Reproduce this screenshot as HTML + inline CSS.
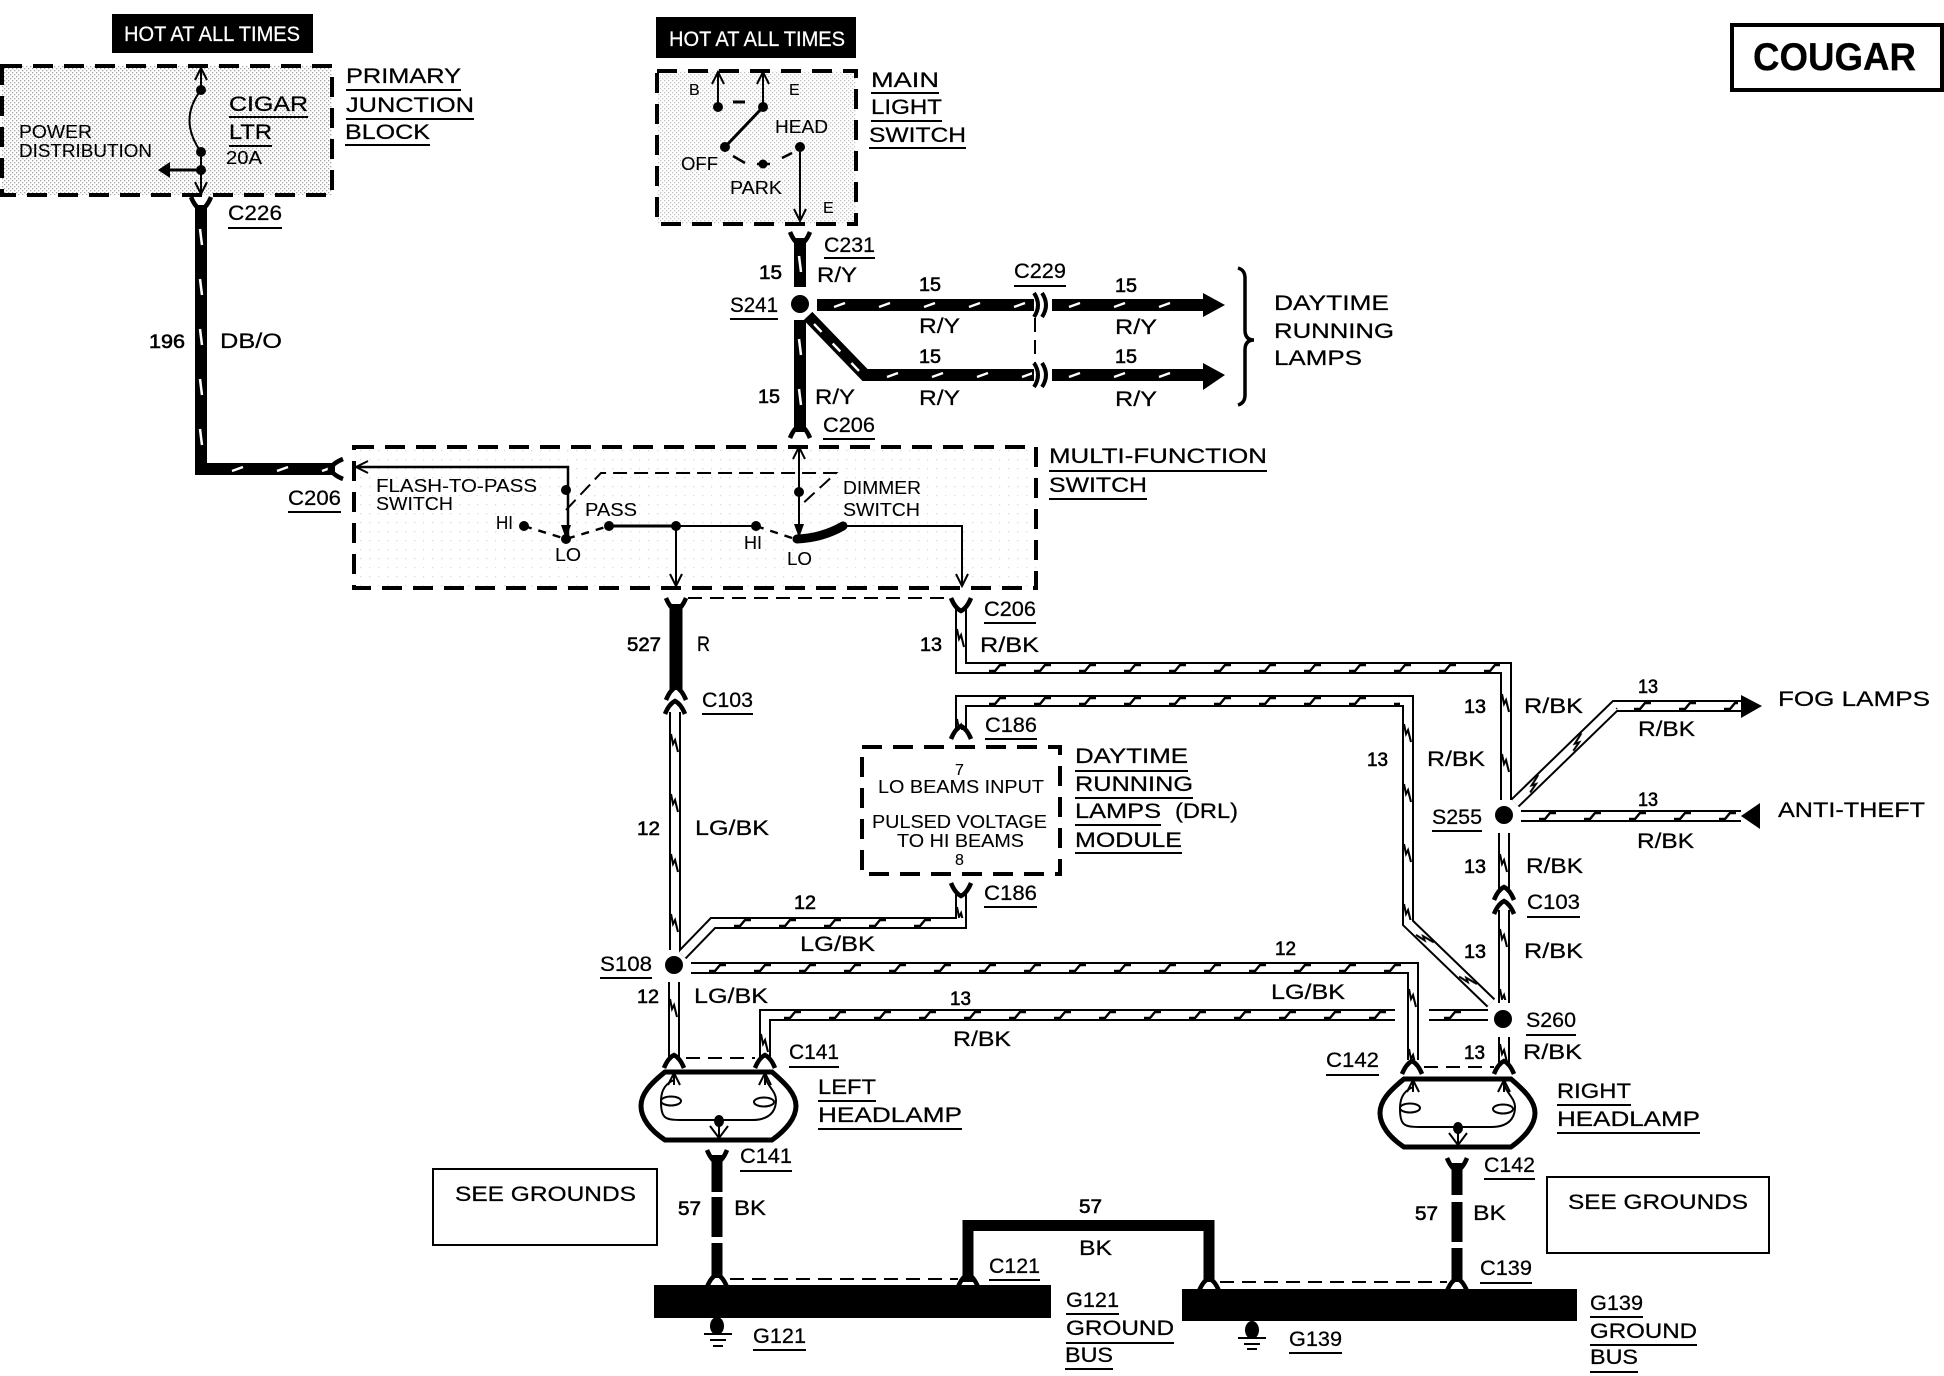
<!DOCTYPE html>
<html><head><meta charset="utf-8"><title>Cougar headlamp wiring</title>
<style>
html,body{margin:0;padding:0;background:#fff}
svg{display:block}
text{font-family:"Liberation Sans",sans-serif;fill:#000;font-size:21px;stroke:#000;stroke-width:.25px}
.s{font-size:18px;stroke-width:.1px}.w{fill:#fff;font-size:21px;stroke:#fff}
.n{font-size:19px;stroke-width:.6px}
</style></head><body>
<svg width="1944" height="1376" viewBox="0 0 1944 1376" xmlns="http://www.w3.org/2000/svg">
<defs>
<pattern id="st" width="4" height="4" patternUnits="userSpaceOnUse"><rect width="1.3" height="1.3" fill="#000" opacity=".65"/><rect x="2" y="2" width="1.3" height="1.3" fill="#000" opacity=".65"/></pattern>
<pattern id="st2" width="9" height="9" patternUnits="userSpaceOnUse"><rect width="1.3" height="1.3" fill="#000" opacity=".4"/></pattern>
<pattern id="k" width="45" height="12" patternUnits="userSpaceOnUse"><path d="M14 9h6l5-6h6" stroke="#000" stroke-width="2.4" fill="none"/></pattern>
<pattern id="kv" width="60" height="12" patternUnits="userSpaceOnUse"><path d="M14 9L24 7L20 5L32 2" stroke="#000" stroke-width="2" fill="none"/></pattern>
<pattern id="w" width="45" height="12" patternUnits="userSpaceOnUse"><path d="M17 8L28 4" stroke="#fff" stroke-width="2.4" fill="none"/></pattern>
<pattern id="wv" width="50" height="12" patternUnits="userSpaceOnUse"><path d="M14 7L30 5" stroke="#fff" stroke-width="2.4" fill="none"/></pattern>
<path id="y" d="M-10 -8Q-6 2 0 5Q6 2 10 -8" fill="none" stroke="#000" stroke-width="4.5"/>
<path id="n" d="M-10 8Q-6 -2 0 -5Q6 -2 10 8" fill="none" stroke="#000" stroke-width="4.5"/>
<path id="a" d="M-6 12L0 0L6 12M0 0V12" fill="none" stroke="#000" stroke-width="2"/>
<g id="lamp">
<path d="M665 1072H772C786 1084 796 1094 796 1106C796 1118 786 1130 772 1140H665C650 1130 641 1118 641 1106C641 1094 650 1084 665 1072Z" fill="#fff" stroke="#000" stroke-width="5"/>
<path d="M674 1074V1080C662 1085 661 1095 661 1102C661 1118 665 1120 680 1120H752C775 1120 776 1105 776 1100C776 1090 765 1085 765 1074M719 1120V1136" fill="none" stroke="#000" stroke-width="2"/>
<ellipse cx="671" cy="1101" rx="10" ry="4.5" fill="#fff" stroke="#000" stroke-width="2"/>
<ellipse cx="764" cy="1102" rx="10" ry="4.5" fill="#fff" stroke="#000" stroke-width="2"/>
<ellipse cx="719" cy="1121" rx="5" ry="6"/>
<use href="#a" x="674" y="1073"/><use href="#a" x="765" y="1073"/>
<path d="M710 1126L719 1138L728 1126" fill="none" stroke="#000" stroke-width="2"/>
</g>
</defs>
<rect width="1944" height="1376" fill="#fff"/>

<!-- boxes -->
<rect x="2" y="66" width="330" height="129" fill="url(#st)" opacity=".55"/>
<rect x="657" y="71" width="199" height="153" fill="url(#st)" opacity=".35"/>
<rect x="354" y="447" width="682" height="141" fill="url(#st2)" opacity=".35"/>
<g fill="none" stroke="#000" stroke-width="4" stroke-dasharray="20 11">
<rect x="2" y="66" width="330" height="129"/>
<rect x="657" y="71" width="199" height="153"/>
<rect x="354" y="447" width="682" height="141"/>
<rect x="862" y="747" width="198" height="127"/>
</g>
<rect x="112" y="14" width="201" height="39" fill="#000"/>
<rect x="656" y="17" width="200" height="41" fill="#000"/>
<rect x="1732" y="25" width="210" height="65" fill="none" stroke="#000" stroke-width="4"/>
<rect x="433" y="1169" width="224" height="76" fill="none" stroke="#000" stroke-width="2"/>
<rect x="1547" y="1177" width="222" height="76" fill="none" stroke="#000" stroke-width="2"/>
<!-- brace -->
<path d="M1238 268Q1245 270 1245 278V330Q1245 340 1254 340Q1245 340 1245 350V395Q1245 403 1238 405" fill="none" stroke="#000" stroke-width="3.500"/>

<!-- thick wires -->
<g fill="none" stroke="#000" stroke-width="12" stroke-linejoin="miter">
<path d="M201 205V469H335"/>
<path d="M800 238V287M800 320V432"/>
<path d="M817 305H1034M1052 305H1205"/>
<path d="M808 316L865 375H1034M1052 375H1205"/>
<path d="M676 604V690" stroke-width="13"/>
<path d="M717 1155V1192M717 1197V1237M717 1243V1278" stroke-width="11"/>
<path d="M1457 1163V1195M1457 1202V1242M1457 1248V1282" stroke-width="11"/>
<path d="M968 1282V1225.500H1209V1282" stroke-width="11"/>
</g>
<path d="M1203 293L1225 305L1203 317Z M1203 363L1225 375L1203 390Z"/>
<g>
<rect fill="url(#wv)" transform="translate(207,215) rotate(90)" width="245"  height="12"/>
<rect fill="url(#w)" transform="translate(215,463)" width="115" height="12"/>
<rect fill="url(#wv)" transform="translate(806,242) rotate(90)" width="44" height="12"/>
<rect fill="url(#wv)" transform="translate(806,325) rotate(90)" width="100" height="12"/>
<rect fill="url(#w)" transform="translate(817,299)" width="215" height="12"/>
<rect fill="url(#w)" transform="translate(1052,299)" width="145" height="12"/>
<rect fill="url(#w)" transform="translate(870,369)" width="162" height="12"/>
<rect fill="url(#w)" transform="translate(1052,369)" width="145" height="12"/>
</g>
<path d="M814 324L860 372" stroke="#fff" stroke-width="2.4" stroke-dasharray="11 16" fill="none"/>

<!-- double wires -->
<g fill="none" stroke="#000" stroke-width="12" stroke-linejoin="miter" id="dw1">
<path d="M961 606V668H1506V800"/>
<path d="M961 730V701H1408V923L1491 1003"/>
<path d="M675 712V950"/>
<path d="M961 890V923H713L682 955"/>
<path d="M691 968H1413V1060"/>
<path d="M765 1058V1015H1395M1429 1015H1488"/>
<path d="M674 982V1060"/>
<path d="M1504 1037V1063"/>
<path d="M1515 803L1615 706H1741"/>
<path d="M1521 816H1741"/>
<path d="M1504 833V890M1504 910V1003"/>
</g>
<g fill="none" stroke="#fff" stroke-width="8" stroke-linejoin="miter">
<path d="M961 604V668H1506V802"/>
<path d="M961 732V701H1408V923L1491 1003"/>
<path d="M675 710V952"/>
<path d="M961 888V923H713L682 955"/>
<path d="M689 968H1413V1062"/>
<path d="M765 1060V1015H1397M1427 1015H1490"/>
<path d="M674 980V1062"/>
<path d="M1504 1035V1065"/>
<path d="M1515 803L1615 706H1743"/>
<path d="M1519 816H1743"/>
<path d="M1504 831V892M1504 908V1005"/>
</g>
<g fill="url(#k)">
<rect fill="url(#kv)" transform="translate(966,615) rotate(90)" width="45" height="10"/>
<rect transform="translate(975,662)" width="525" height="12"/>
<rect fill="url(#kv)" transform="translate(1511,680) rotate(90)" width="115" height="10"/>
<rect fill="url(#kv)" transform="translate(966,705) rotate(90)" width="25" height="10"/>
<rect transform="translate(975,695)" width="425" height="12"/>
<rect fill="url(#kv)" transform="translate(1413,710) rotate(90)" width="210" height="10"/>
<rect fill="url(#kv)" transform="translate(1408,923) rotate(44) translate(0,-6)" width="115" height="12"/>
<rect fill="url(#kv)" transform="translate(680,720) rotate(90)" width="225" height="10"/>
<rect fill="url(#kv)" transform="translate(966,893) rotate(90)" width="25" height="10"/>
<rect transform="translate(720,917)" width="235" height="12"/>
<rect transform="translate(695,962)" width="710" height="12"/>
<rect fill="url(#kv)" transform="translate(1418,975) rotate(90)" width="85" height="10"/>
<rect transform="translate(770,1009)" width="620" height="12"/>
<rect transform="translate(1430,1009)" width="55" height="12"/>
<rect fill="url(#kv)" transform="translate(770,1020) rotate(90)" width="38" height="10"/>
<rect fill="url(#kv)" transform="translate(679,985) rotate(90)" width="72" height="10"/>
<rect fill="url(#kv)" transform="translate(1509,1030) rotate(90)" width="32" height="10"/>
<rect fill="url(#kv)" transform="translate(1518,800) rotate(-44) translate(0,-6)" width="135" height="12"/>
<rect transform="translate(1620,700)" width="118" height="12"/>
<rect transform="translate(1525,810)" width="212" height="12"/>
<rect fill="url(#kv)" transform="translate(1509,840) rotate(90)" width="45" height="10"/>
<rect fill="url(#kv)" transform="translate(1509,915) rotate(90)" width="85" height="10"/>
</g>
<path d="M1741 695L1762 706L1741 718Z M1741 816L1760 803V829Z"/>

<!-- connectors -->
<use href="#y" x="201" y="205"/><use href="#y" x="800" y="240"/><use href="#y" x="676" y="606"/><use href="#y" x="961" y="606"/><use href="#y" x="961" y="891"/><use href="#y" x="717" y="1158"/><use href="#y" x="1457" y="1166"/>
<use href="#n" x="800" y="430"/><use href="#n" x="676" y="692"/><use href="#n" x="675" y="706"/><use href="#n" x="1504" y="892"/><use href="#n" x="1504" y="906"/><use href="#n" x="961" y="731"/><use href="#n" x="674" y="1060"/><use href="#n" x="765" y="1060"/><use href="#n" x="1412" y="1066"/><use href="#n" x="1504" y="1066"/><use href="#n" x="717" y="1279"/><use href="#n" x="968" y="1279"/><use href="#n" x="1209" y="1283"/><use href="#n" x="1457" y="1283"/>
<use href="#y" transform="translate(335,469) rotate(90)"/>
<path d="M1034 293Q1042 305 1034 317M1042 293Q1050 305 1042 317M1034 363Q1042 375 1034 387M1042 363Q1050 375 1042 387" fill="none" stroke="#000" stroke-width="4"/>
<!-- thin dashed connector ties -->
<g fill="none" stroke="#000" stroke-width="2" stroke-dasharray="14 8">
<path d="M1035 318V366"/>
<path d="M688 598H945"/>
<path d="M686 1058H755"/>
<path d="M1424 1067H1494"/>
<path d="M730 1279H958"/>
<path d="M1220 1282H1447"/>
</g>
<!-- bus -->
<rect x="654" y="1285" width="397" height="33"/>
<rect x="1182" y="1289" width="395" height="32"/>
<ellipse cx="717" cy="1326" rx="7" ry="9"/>
<ellipse cx="1252" cy="1330" rx="7" ry="9"/>
<path d="M704 1334H732M710 1340H726M713 1346H723M1238 1338H1266M1244 1344H1260M1247 1349H1257" stroke="#000" stroke-width="2"/>
<!-- headlamps -->
<use href="#lamp"/>
<use href="#lamp" transform="translate(739,7)"/>

<!-- splices -->
<circle cx="800" cy="304" r="9"/><circle cx="1504" cy="815" r="9"/><circle cx="1503" cy="1019" r="9"/><circle cx="674" cy="965" r="9"/>

<!-- fuse block internals -->
<g fill="none" stroke="#000" stroke-width="2">
<path d="M201 72V90M201 90Q178 120 201 152M201 152V192"/>
<path d="M201 170H165" stroke-width="3"/>
</g>
<use href="#a" x="201" y="68"/>
<use href="#a" transform="translate(201,194) rotate(180)"/>
<path d="M158 170L170 162V178Z"/>
<circle cx="201" cy="90" r="5"/><circle cx="201" cy="152" r="5"/><circle cx="201" cy="170" r="5"/>

<!-- main light switch -->
<g fill="none" stroke="#000" stroke-width="2">
<path d="M718 74V107M763 74V107M800 147V220"/>
<path d="M763 107L725 147" stroke-width="3"/>
<path d="M733 102H745" stroke-width="3"/>
<path d="M733 156L745 163M757 164H770M782 158L792 153" stroke-width="2.500"/>
</g>
<use href="#a" x="718" y="72"/><use href="#a" x="763" y="72"/><use href="#a" transform="translate(800,221) rotate(180)"/>
<circle cx="718" cy="107" r="5"/><circle cx="763" cy="107" r="5"/><circle cx="725" cy="147" r="5"/><circle cx="800" cy="147" r="5"/><circle cx="763" cy="164" r="4.500"/>

<!-- multi-function internals -->
<g fill="none" stroke="#000" stroke-width="2">
<path d="M358 467H568V539" stroke-width="2.500"/>
<path d="M799 449V535"/>
<path d="M609 526H676" stroke-width="3"/><path d="M676 526H756"/>
<path d="M676 526V584"/>
<path d="M843 526H962V584"/>
<path d="M566 510L601 473H836L799 507" stroke-dasharray="14 7"/>
<path d="M524 526L566 539L609 526M756 526L795 539" stroke-dasharray="8 7" stroke-width="2.400"/>
</g>
<path d="M797 539Q822 538 843 526" fill="none" stroke="#000" stroke-width="9" stroke-linecap="round"/>
<use href="#a" transform="translate(356,467) rotate(-90)"/>
<use href="#a" x="799" y="447"/>
<use href="#a" transform="translate(676,586) rotate(180)"/>
<use href="#a" transform="translate(962,586) rotate(180)"/>
<path d="M561 525L566 539L571 525Z M794 524L799 538L804 524Z"/>
<circle cx="566" cy="490" r="5"/><circle cx="799" cy="492" r="5"/><circle cx="524" cy="526" r="5"/><circle cx="566" cy="539" r="5"/><circle cx="609" cy="526" r="5"/><circle cx="676" cy="526" r="5"/><circle cx="756" cy="526" r="5"/>

<!-- underlines -->
<path fill="none" stroke="#000" stroke-width="2" d="M346 90H461M346 119H474M345 145H430M229 117H308M229 146H272M228 228H282M871 93H939M871 121H942M869 148H966M824 258H875M730 319H778M823 439H875M1014 286H1066M1049 471H1267M1049 499H1147M288 512H341M984 623H1036M702 714H753M985 739H1037M984 907H1037M1075 771H1188M1075 798H1193M1075 825H1161M1075 853H1182M1432 831H1482M1527 917H1580M1526 1035H1576M600 978H652M789 1067H839M1326 1075H1379M818 1101H876M818 1129H962M1557 1105H1631M1557 1133H1700M740 1171H792M1484 1179H1535M989 1280H1040M1480 1283H1532M753 1350H806M1066 1314H1119M1066 1343H1174M1065 1369H1113M1289 1353H1342M1590 1317H1643M1590 1345H1697M1590 1372H1638"/>

<!-- text -->
<g>
<text class="w" x="124" y="41" textLength="176" lengthAdjust="spacingAndGlyphs">HOT AT ALL TIMES</text>
<text class="w" x="669" y="46" textLength="176" lengthAdjust="spacingAndGlyphs">HOT AT ALL TIMES</text>
<text x="1753" y="70" font-weight="bold" style="font-size:39px" textLength="163" lengthAdjust="spacingAndGlyphs">COUGAR</text>

<text x="346" y="83" textLength="115" lengthAdjust="spacingAndGlyphs">PRIMARY</text>
<text x="346" y="112" textLength="128" lengthAdjust="spacingAndGlyphs">JUNCTION</text>
<text x="345" y="139" textLength="85" lengthAdjust="spacingAndGlyphs">BLOCK</text>
<text x="229" y="111" textLength="79" lengthAdjust="spacingAndGlyphs">CIGAR</text>
<text x="229" y="139" textLength="43" lengthAdjust="spacingAndGlyphs">LTR</text>
<text class="s" x="226" y="164" textLength="36" lengthAdjust="spacingAndGlyphs">20A</text>
<text class="s" x="19" y="138" textLength="73" lengthAdjust="spacingAndGlyphs">POWER</text>
<text class="s" x="19" y="157" textLength="133" lengthAdjust="spacingAndGlyphs">DISTRIBUTION</text>
<text x="228" y="220" textLength="54" lengthAdjust="spacingAndGlyphs">C226</text>
<text class="n" x="149" y="348" textLength="36" lengthAdjust="spacingAndGlyphs">196</text>
<text x="220" y="348" textLength="62" lengthAdjust="spacingAndGlyphs">DB/O</text>

<text x="871" y="87" textLength="68" lengthAdjust="spacingAndGlyphs">MAIN</text>
<text x="871" y="114" textLength="71" lengthAdjust="spacingAndGlyphs">LIGHT</text>
<text x="869" y="142" textLength="97" lengthAdjust="spacingAndGlyphs">SWITCH</text>
<text class="s" x="689" y="95" style="font-size:16px">B</text>
<text class="s" x="789" y="95" style="font-size:16px">E</text>
<text class="s" x="775" y="133" textLength="53" lengthAdjust="spacingAndGlyphs">HEAD</text>
<text class="s" x="681" y="170" textLength="37" lengthAdjust="spacingAndGlyphs">OFF</text>
<text class="s" x="730" y="194" textLength="52" lengthAdjust="spacingAndGlyphs">PARK</text>
<text class="s" x="823" y="213" style="font-size:16px">E</text>

<text x="824" y="252" textLength="51" lengthAdjust="spacingAndGlyphs">C231</text>
<text class="n" x="759" y="279" textLength="23" lengthAdjust="spacingAndGlyphs">15</text>
<text x="817" y="282" textLength="40" lengthAdjust="spacingAndGlyphs">R/Y</text>
<text x="730" y="312" textLength="48" lengthAdjust="spacingAndGlyphs">S241</text>
<text class="n" x="758" y="403" textLength="22" lengthAdjust="spacingAndGlyphs">15</text>
<text x="815" y="404" textLength="40" lengthAdjust="spacingAndGlyphs">R/Y</text>
<text x="823" y="432" textLength="52" lengthAdjust="spacingAndGlyphs">C206</text>
<text class="n" x="919" y="291" textLength="22" lengthAdjust="spacingAndGlyphs">15</text>
<text x="919" y="333" textLength="41" lengthAdjust="spacingAndGlyphs">R/Y</text>
<text class="n" x="919" y="363" textLength="22" lengthAdjust="spacingAndGlyphs">15</text>
<text x="919" y="405" textLength="41" lengthAdjust="spacingAndGlyphs">R/Y</text>
<text class="n" x="1115" y="292" textLength="22" lengthAdjust="spacingAndGlyphs">15</text>
<text x="1115" y="334" textLength="42" lengthAdjust="spacingAndGlyphs">R/Y</text>
<text class="n" x="1115" y="363" textLength="22" lengthAdjust="spacingAndGlyphs">15</text>
<text x="1115" y="406" textLength="42" lengthAdjust="spacingAndGlyphs">R/Y</text>
<text x="1014" y="278" textLength="52" lengthAdjust="spacingAndGlyphs">C229</text>
<text x="1274" y="310" textLength="115" lengthAdjust="spacingAndGlyphs">DAYTIME</text>
<text x="1274" y="338" textLength="120" lengthAdjust="spacingAndGlyphs">RUNNING</text>
<text x="1274" y="365" textLength="88" lengthAdjust="spacingAndGlyphs">LAMPS</text>

<text x="1049" y="463" textLength="218" lengthAdjust="spacingAndGlyphs">MULTI-FUNCTION</text>
<text x="1049" y="492" textLength="98" lengthAdjust="spacingAndGlyphs">SWITCH</text>
<text x="288" y="505" textLength="53" lengthAdjust="spacingAndGlyphs">C206</text>
<text class="s" x="376" y="492" textLength="161" lengthAdjust="spacingAndGlyphs">FLASH-TO-PASS</text>
<text class="s" x="376" y="510" textLength="77" lengthAdjust="spacingAndGlyphs">SWITCH</text>
<text class="s" x="585" y="516" textLength="52" lengthAdjust="spacingAndGlyphs">PASS</text>
<text class="s" x="496" y="529" textLength="17" lengthAdjust="spacingAndGlyphs">HI</text>
<text class="s" x="555" y="561" textLength="26" lengthAdjust="spacingAndGlyphs">LO</text>
<text class="s" x="744" y="549" textLength="18" lengthAdjust="spacingAndGlyphs">HI</text>
<text class="s" x="787" y="565" textLength="25" lengthAdjust="spacingAndGlyphs">LO</text>
<text class="s" x="843" y="494" textLength="78" lengthAdjust="spacingAndGlyphs">DIMMER</text>
<text class="s" x="843" y="516" textLength="77" lengthAdjust="spacingAndGlyphs">SWITCH</text>

<text class="n" x="627" y="651" textLength="34" lengthAdjust="spacingAndGlyphs">527</text>
<text x="697" y="651" textLength="13" lengthAdjust="spacingAndGlyphs">R</text>
<text x="984" y="616" textLength="52" lengthAdjust="spacingAndGlyphs">C206</text>
<text class="n" x="920" y="651" textLength="22" lengthAdjust="spacingAndGlyphs">13</text>
<text x="980" y="652" textLength="59" lengthAdjust="spacingAndGlyphs">R/BK</text>
<text x="702" y="707" textLength="51" lengthAdjust="spacingAndGlyphs">C103</text>
<text class="n" x="637" y="835" textLength="23" lengthAdjust="spacingAndGlyphs">12</text>
<text x="695" y="835" textLength="74" lengthAdjust="spacingAndGlyphs">LG/BK</text>
<text x="985" y="732" textLength="52" lengthAdjust="spacingAndGlyphs">C186</text>
<text x="984" y="900" textLength="53" lengthAdjust="spacingAndGlyphs">C186</text>

<text class="s" x="955" y="775" style="font-size:16px">7</text>
<text class="s" x="878" y="793" textLength="166" lengthAdjust="spacingAndGlyphs">LO BEAMS INPUT</text>
<text class="s" x="872" y="828" textLength="175" lengthAdjust="spacingAndGlyphs">PULSED VOLTAGE</text>
<text class="s" x="897" y="847" textLength="127" lengthAdjust="spacingAndGlyphs">TO HI BEAMS</text>
<text class="s" x="955" y="865" style="font-size:16px">8</text>
<text x="1075" y="763" textLength="113" lengthAdjust="spacingAndGlyphs">DAYTIME</text>
<text x="1075" y="791" textLength="118" lengthAdjust="spacingAndGlyphs">RUNNING</text>
<text x="1075" y="818" textLength="86" lengthAdjust="spacingAndGlyphs">LAMPS</text>
<text x="1175" y="818" textLength="63" lengthAdjust="spacingAndGlyphs">(DRL)</text>
<text x="1075" y="847" textLength="107" lengthAdjust="spacingAndGlyphs">MODULE</text>

<text class="n" x="1464" y="713" textLength="22" lengthAdjust="spacingAndGlyphs">13</text>
<text x="1524" y="713" textLength="59" lengthAdjust="spacingAndGlyphs">R/BK</text>
<text class="n" x="1367" y="766" textLength="21" lengthAdjust="spacingAndGlyphs">13</text>
<text x="1427" y="766" textLength="58" lengthAdjust="spacingAndGlyphs">R/BK</text>
<text x="1432" y="824" textLength="50" lengthAdjust="spacingAndGlyphs">S255</text>
<text class="n" x="1638" y="693" textLength="20" lengthAdjust="spacingAndGlyphs">13</text>
<text x="1638" y="736" textLength="57" lengthAdjust="spacingAndGlyphs">R/BK</text>
<text x="1778" y="706" textLength="152" lengthAdjust="spacingAndGlyphs">FOG LAMPS</text>
<text class="n" x="1638" y="806" textLength="20" lengthAdjust="spacingAndGlyphs">13</text>
<text x="1637" y="848" textLength="57" lengthAdjust="spacingAndGlyphs">R/BK</text>
<text x="1778" y="817" textLength="147" lengthAdjust="spacingAndGlyphs">ANTI-THEFT</text>
<text class="n" x="1464" y="873" textLength="22" lengthAdjust="spacingAndGlyphs">13</text>
<text x="1526" y="873" textLength="57" lengthAdjust="spacingAndGlyphs">R/BK</text>
<text x="1527" y="909" textLength="53" lengthAdjust="spacingAndGlyphs">C103</text>
<text class="n" x="1464" y="958" textLength="22" lengthAdjust="spacingAndGlyphs">13</text>
<text x="1524" y="958" textLength="59" lengthAdjust="spacingAndGlyphs">R/BK</text>

<text class="n" x="794" y="909" textLength="22" lengthAdjust="spacingAndGlyphs">12</text>
<text x="800" y="951" textLength="75" lengthAdjust="spacingAndGlyphs">LG/BK</text>
<text x="600" y="971" textLength="52" lengthAdjust="spacingAndGlyphs">S108</text>
<text class="n" x="1275" y="955" textLength="21" lengthAdjust="spacingAndGlyphs">12</text>
<text x="1271" y="999" textLength="74" lengthAdjust="spacingAndGlyphs">LG/BK</text>
<text class="n" x="637" y="1003" textLength="22" lengthAdjust="spacingAndGlyphs">12</text>
<text x="694" y="1003" textLength="74" lengthAdjust="spacingAndGlyphs">LG/BK</text>
<text class="n" x="950" y="1005" textLength="21" lengthAdjust="spacingAndGlyphs">13</text>
<text x="953" y="1046" textLength="58" lengthAdjust="spacingAndGlyphs">R/BK</text>
<text x="1526" y="1027" textLength="50" lengthAdjust="spacingAndGlyphs">S260</text>
<text class="n" x="1464" y="1059" textLength="21" lengthAdjust="spacingAndGlyphs">13</text>
<text x="1523" y="1059" textLength="59" lengthAdjust="spacingAndGlyphs">R/BK</text>
<text x="789" y="1059" textLength="50" lengthAdjust="spacingAndGlyphs">C141</text>
<text x="1326" y="1067" textLength="53" lengthAdjust="spacingAndGlyphs">C142</text>

<text x="818" y="1094" textLength="58" lengthAdjust="spacingAndGlyphs">LEFT</text>
<text x="818" y="1122" textLength="144" lengthAdjust="spacingAndGlyphs">HEADLAMP</text>
<text x="1557" y="1098" textLength="74" lengthAdjust="spacingAndGlyphs">RIGHT</text>
<text x="1557" y="1126" textLength="143" lengthAdjust="spacingAndGlyphs">HEADLAMP</text>

<text x="740" y="1163" textLength="52" lengthAdjust="spacingAndGlyphs">C141</text>
<text x="1484" y="1172" textLength="51" lengthAdjust="spacingAndGlyphs">C142</text>
<text x="455" y="1201" textLength="181" lengthAdjust="spacingAndGlyphs">SEE GROUNDS</text>
<text x="1568" y="1209" textLength="180" lengthAdjust="spacingAndGlyphs">SEE GROUNDS</text>
<text class="n" x="678" y="1215" textLength="23" lengthAdjust="spacingAndGlyphs">57</text>
<text x="734" y="1215" textLength="32" lengthAdjust="spacingAndGlyphs">BK</text>
<text class="n" x="1415" y="1220" textLength="23" lengthAdjust="spacingAndGlyphs">57</text>
<text x="1473" y="1220" textLength="33" lengthAdjust="spacingAndGlyphs">BK</text>
<text class="n" x="1079" y="1213" textLength="23" lengthAdjust="spacingAndGlyphs">57</text>
<text x="1079" y="1255" textLength="33" lengthAdjust="spacingAndGlyphs">BK</text>
<text x="989" y="1273" textLength="51" lengthAdjust="spacingAndGlyphs">C121</text>
<text x="1480" y="1275" textLength="52" lengthAdjust="spacingAndGlyphs">C139</text>
<text x="753" y="1343" textLength="53" lengthAdjust="spacingAndGlyphs">G121</text>
<text x="1066" y="1307" textLength="53" lengthAdjust="spacingAndGlyphs">G121</text>
<text x="1066" y="1335" textLength="108" lengthAdjust="spacingAndGlyphs">GROUND</text>
<text x="1065" y="1362" textLength="48" lengthAdjust="spacingAndGlyphs">BUS</text>
<text x="1289" y="1346" textLength="53" lengthAdjust="spacingAndGlyphs">G139</text>
<text x="1590" y="1310" textLength="53" lengthAdjust="spacingAndGlyphs">G139</text>
<text x="1590" y="1338" textLength="107" lengthAdjust="spacingAndGlyphs">GROUND</text>
<text x="1590" y="1364" textLength="48" lengthAdjust="spacingAndGlyphs">BUS</text>
</g>
</svg>
</body></html>
